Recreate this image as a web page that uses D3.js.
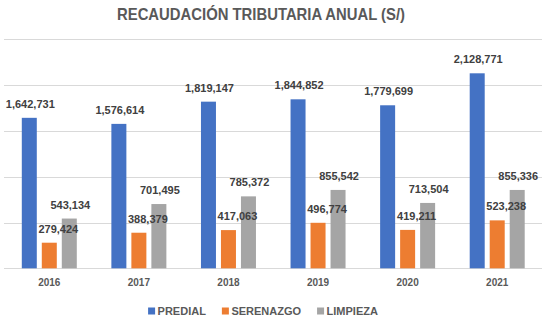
<!DOCTYPE html>
<html>
<head>
<meta charset="utf-8">
<script src="https://cdn.jsdelivr.net/npm/d3@7"></script>
<style>
  body { margin: 0; background: #fff; }
  text { font-family: "Liberation Sans", Arial, sans-serif; }
</style>
</head>
<body>
<div id="chart"></div>
<script>
var years = ["2016", "2017", "2018", "2019", "2020", "2021"];
var predial = [1642731, 1576614, 1819147, 1844852, 1779699, 2128771];
var serenazgo = [279424, 388379, 417063, 496774, 419211, 523238];
var limpieza = [543134, 701495, 785372, 855542, 713504, 855336];
var seriesNames = ["PREDIAL", "SERENAZGO", "LIMPIEZA"];
var yTicks = [0, 500000, 1000000, 1500000, 2000000, 2500000];

var width = 549, height = 323;
var colors = ["#4472C4", "#ED7D31", "#A5A5A5"];
var labelShift = [1, 9, 1];

var series = [predial, serenazgo, limpieza];
var data = years.map(function(y, i) {
  return { year: y, values: series.map(function(s) { return s[i]; }) };
});

var svg = d3.select("#chart").append("svg")
  .attr("width", width)
  .attr("height", height);

svg.append("rect").attr("width", width).attr("height", height).attr("fill", "#fff");

var x = d3.scaleBand()
  .domain(years)
  .range([4.5, 542]);

var y = d3.scaleLinear()
  .domain([0, 2500000])
  .range([268.3, 39.3]);

var barW = 15, barGap = 5;
var x1 = d3.scaleBand()
  .domain(d3.range(3))
  .range([0, 3 * barW + 2 * barGap])
  .paddingInner(barGap / (barW + barGap));

// title
svg.append("text")
  .attr("x", 261)
  .attr("y", 20)
  .attr("text-anchor", "middle")
  .attr("font-size", "16.5px")
  .attr("font-weight", "bold")
  .attr("fill", "#595959")
  .attr("textLength", 288)
  .attr("lengthAdjust", "spacingAndGlyphs")
  .text("RECAUDACIÓN TRIBUTARIA ANUAL (S/)");

// grid
svg.append("g")
  .selectAll("line")
  .data(yTicks)
  .enter().append("line")
    .attr("x1", 4)
    .attr("x2", 542)
    .attr("y1", function(d) { return Math.round(y(d)) + 0.5; })
    .attr("y2", function(d) { return Math.round(y(d)) + 0.5; })
    .attr("stroke", "#d9d9d9")
    .attr("stroke-width", 1);

var groups = svg.append("g")
  .selectAll("g")
  .data(data)
  .enter().append("g")
    .attr("transform", function(d) {
      return "translate(" + (x(d.year) + (x.bandwidth() - x1.range()[1]) / 2) + ",0)";
    });

groups.selectAll("rect")
  .data(function(d) { return d.values; })
  .enter().append("rect")
    .attr("x", function(d, i) { return x1(i); })
    .attr("width", x1.bandwidth())
    .attr("y", function(d) { return y(d); })
    .attr("height", function(d) { return y(0) - y(d); })
    .attr("fill", function(d, i) { return colors[i]; });

var fmt = d3.format(",d");
groups.selectAll("text")
  .data(function(d) { return d.values; })
  .enter().append("text")
    .attr("x", function(d, i) { return x1(i) + x1.bandwidth() / 2 + labelShift[i]; })
    .attr("y", function(d) { return y(d) - 10; })
    .attr("text-anchor", "middle")
    .attr("font-size", "11px")
    .attr("font-weight", "bold")
    .attr("fill", "#404040")
    .text(function(d) { return fmt(d); });

// x axis labels
var xAxis = svg.append("g")
  .attr("transform", "translate(0," + y(0) + ")")
  .call(d3.axisBottom(x).tickSize(0).tickPadding(11));
xAxis.select(".domain").remove();
xAxis.selectAll("text")
  .attr("font-family", "Liberation Sans, Arial, sans-serif")
  .attr("font-size", "10px")
  .attr("font-weight", "bold")
  .attr("fill", "#595959");

// legend
var legend = svg.append("g").attr("transform", "translate(0,311)");
var items = legend.selectAll("g")
  .data(seriesNames)
  .enter().append("g");
items.append("rect")
  .attr("y", -3.5)
  .attr("width", 7)
  .attr("height", 7)
  .attr("fill", function(d, i) { return colors[i]; });
items.append("text")
  .attr("x", 9.5)
  .attr("y", 4)
  .attr("font-size", "11px")
  .attr("font-weight", "bold")
  .attr("fill", "#595959")
  .text(function(d) { return d; });

var pos = 0, offsets = [];
items.each(function(d, i) {
  offsets.push(pos);
  pos += 9.5 + this.querySelector("text").getComputedTextLength() + 16;
});
var total = pos - 16;
var start = 263 - total / 2;
items.attr("transform", function(d, i) { return "translate(" + (start + offsets[i]) + ",0)"; });
</script>
</body>
</html>
